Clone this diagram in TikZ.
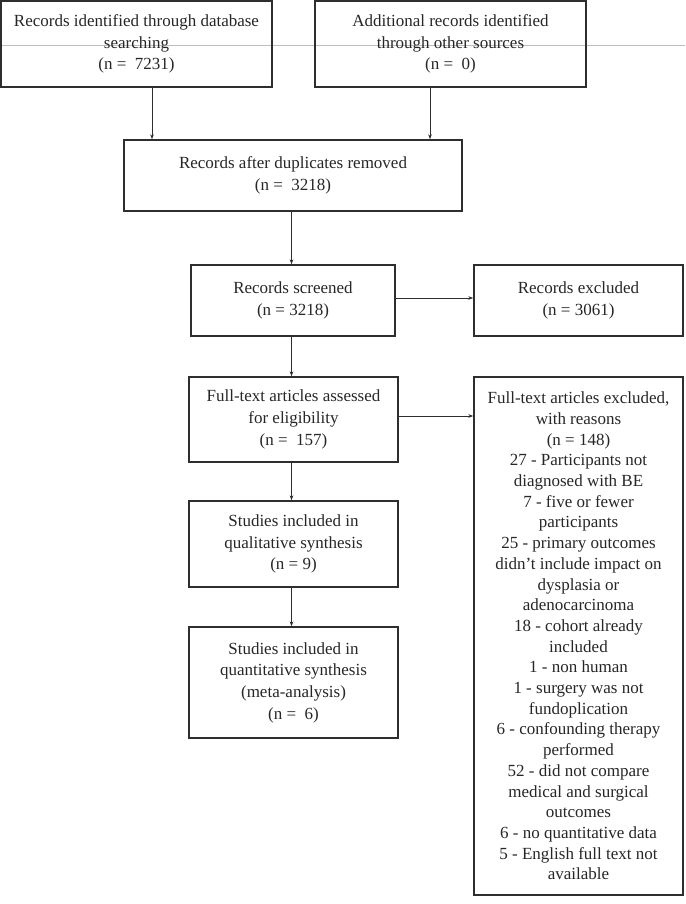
\documentclass[tikz,border=0pt]{standalone}
\usepackage{fontspec}
\setmainfont{Liberation Serif}
\usetikzlibrary{arrows.meta}
\definecolor{edge}{HTML}{2E2E2E}
\definecolor{guide}{HTML}{BDBDBD}
\tikzset{
  box/.style={draw=edge, line width=1.4pt, rectangle, align=center, inner sep=2pt,
    font=\fontsize{17}{21.7}\selectfont, text=black!85},
  tightbox/.style={box, font=\fontsize{17}{20.7}\selectfont},
  arr/.style={draw=edge, line width=0.8pt, -{Stealth[length=5pt,width=3.6pt]}},
}
\begin{document}
\begin{tikzpicture}[x=1pt,y=-1pt]
\useasboundingbox (0,0) rectangle (685,904);
\coordinate (gl) at (0,45);
\coordinate (gr) at (685,45);
\draw[guide, line width=0.7pt] (gl) -- (gr);

\node[box, minimum width=271pt, minimum height=86pt] (b1) at (136.5,44)
  {Records identified through database\\searching\\(n =\ \ 7231)};
\node[box, minimum width=271pt, minimum height=86pt] (b2) at (450.5,44)
  {Additional records identified\\through other sources\\(n =\ \ 0)};
\node[box, minimum width=338pt, minimum height=71pt] (b3) at (293,175.5)
  {Records after duplicates removed\\(n =\ \ 3218)};
\node[box, minimum width=204pt, minimum height=71pt] (b4) at (293,300.5)
  {Records screened\\(n = 3218)};
\node[box, minimum width=209pt, minimum height=71pt] (b5) at (578.5,300.5)
  {Records excluded\\(n = 3061)};
\node[box, minimum width=209pt, minimum height=85pt] (b6) at (293.5,419.5)
  {Full-text articles assessed\\for eligibility\\(n =\ \ 157)};
\node[tightbox, minimum width=209pt, minimum height=518pt] (b7) at (578.5,636)
  {Full-text articles excluded,\\with reasons\\(n = 148)\\27 - Participants not\\diagnosed with BE\\7 - five or fewer\\participants\\25 - primary outcomes\\didn’t include impact on\\dysplasia or\\adenocarcinoma\\18 - cohort already\\included\\1 - non human\\1 - surgery was not\\fundoplication\\6 - confounding therapy\\performed\\52 - did not compare\\medical and surgical\\outcomes\\6 - no quantitative data\\5 - English full text not\\available};
\node[box, minimum width=209pt, minimum height=86pt] (b8) at (293.5,544)
  {Studies included in\\qualitative synthesis\\(n = 9)};
\node[box, minimum width=209pt, minimum height=111pt] (b9) at (293.5,682.5)
  {Studies included in\\quantitative synthesis\\(meta-analysis)\\(n =\ \ 6)};

\draw[arr] ([xshift=15.5pt]b1.south) -- ([xshift=15.5pt]b1.south |- b3.north);
\draw[arr] ([xshift=-20.5pt]b2.south) -- ([xshift=-20.5pt]b2.south |- b3.north);
\draw[arr] ([xshift=-1.5pt]b3.south) -- ([xshift=-1.5pt]b3.south |- b4.north);
\draw[arr] ([yshift=2.5pt]b4.east) -- ([yshift=2.5pt]b4.east -| b5.west);
\draw[arr] ([xshift=-1.5pt]b4.south) -- ([xshift=-1.5pt]b4.south |- b6.north);
\draw[arr] ([yshift=3.5pt]b6.east) -- ([yshift=3.5pt]b6.east -| b7.west);
\draw[arr] ([xshift=-2pt]b6.south) -- ([xshift=-2pt]b6.south |- b8.north);
\draw[arr] ([xshift=-2pt]b8.south) -- ([xshift=-2pt]b8.south |- b9.north);
\end{tikzpicture}
\end{document}
